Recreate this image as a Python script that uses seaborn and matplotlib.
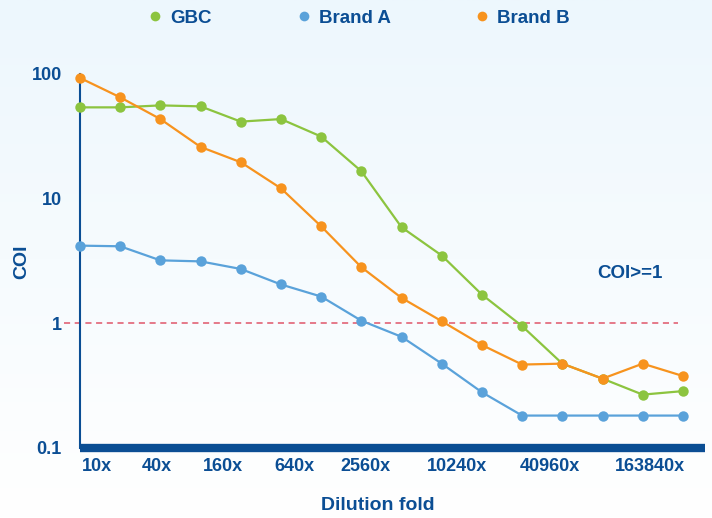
import matplotlib
matplotlib.use("Agg")
import matplotlib.pyplot as plt
import numpy as np
import pandas as pd
import seaborn as sns
from matplotlib.colors import LinearSegmentedColormap
from matplotlib.lines import Line2D

dilutions = ["10x", "20x", "40x", "80x", "160x", "320x", "640x", "1280x",
             "2560x", "5120x", "10240x", "20480x", "40960x", "81920x",
             "163840x", "327680x"]
gbc = [54, 54, 56, 55, 41.5, 43.5, 31.5, 16.6, 5.9, 3.5, 1.7, 0.95,
       0.475, 0.36, 0.268, 0.286]
brand_a = [4.2, 4.15, 3.2, 3.14, 2.73, 2.05, 1.64, 1.05, 0.78, 0.475,
           0.28, 0.182, 0.182, 0.182, 0.182, 0.182]
brand_b = [93, 65, 43.5, 26, 19.6, 12.1, 6.0, 2.82, 1.6, 1.04, 0.67,
           0.467, 0.475, 0.36, 0.475, 0.378]
tick_labels = ["10x", "40x", "160x", "640x", "2560x", "10240x", "40960x", "163840x"]
series_names = ["GBC", "Brand A", "Brand B"]
threshold = 1

NAVY = "#0B4E94"
palette = {"GBC": "#8CC43F", "Brand A": "#5AA2DA", "Brand B": "#F7931E"}

df = pd.DataFrame({
    "idx": list(range(len(dilutions))) * 3,
    "COI": gbc + brand_a + brand_b,
    "series": [s for s in series_names for _ in dilutions],
})

sns.set_style("white")
plt.rcParams["font.family"] = ["Liberation Sans", "DejaVu Sans"]
plt.rcParams["font.weight"] = "bold"

fig = plt.figure(figsize=(7.12, 5.18), dpi=100)

# light blue to white background gradient
bg = fig.add_axes([0, 0, 1, 1], zorder=-10)
grad = np.linspace(0, 1, 256).reshape(-1, 1)
cmap = LinearSegmentedColormap.from_list("bg", ["#EDF7FD", "#FFFFFF"])
bg.imshow(grad, aspect="auto", cmap=cmap, extent=[0, 1, 0, 1])
bg.axis("off")

ax = fig.add_axes([80 / 712, 70 / 518, 625 / 712, 374 / 518])
ax.patch.set_alpha(0)

sns.lineplot(data=df, x="idx", y="COI", hue="series", palette=palette,
             marker="o", markersize=7.5, markeredgewidth=0, linewidth=1.6,
             legend=False, ax=ax, clip_on=False, zorder=3)

ax.axhline(threshold, xmin=-0.025, xmax=0.957, color="#E0566A", linestyle=(0, (4, 3)),
           linewidth=1.1, clip_on=False, zorder=2)
ax.text(13.68, 2.52, "COI>=1", color=NAVY, fontsize=13.5, fontweight="bold",
        ha="center", va="center")

ax.set_yscale("log")
ax.set_ylim(0.1, 100)
ax.set_xlim(0, 15.55)
ax.set_yticks([0.1, 1, 10, 100])
ax.set_yticklabels(["0.1", "1", "10", "100"])
ax.minorticks_off()
ax.set_xticks([0.42, 1.92, 3.56, 5.34, 7.11, 9.38, 11.68, 14.17])
ax.set_xticklabels(tick_labels)
ax.tick_params(axis="both", length=0, labelsize=13, colors=NAVY)
ax.tick_params(axis="y", pad=13)
ax.tick_params(axis="x", pad=7)
for lab in ax.get_xticklabels() + ax.get_yticklabels():
    lab.set_fontweight("bold")

ax.set_xlabel("Dilution fold", color=NAVY, fontsize=14, fontweight="bold")
ax.set_ylabel("COI", color=NAVY, fontsize=14, fontweight="bold")
ax.xaxis.set_label_coords(298 / 625, -57 / 374)
ax.yaxis.set_label_coords(-58 / 625, 186 / 374)
ax.xaxis.label.set_va("center")
ax.yaxis.label.set_va("center")

for side in ["top", "right"]:
    ax.spines[side].set_visible(False)
ax.spines["left"].set_color(NAVY)
ax.spines["left"].set_linewidth(1.5)
ax.spines["bottom"].set_color(NAVY)
ax.spines["bottom"].set_linewidth(6)
ax.spines["bottom"].set_capstyle("butt")

handles = [Line2D([], [], linestyle="none", marker="o", markersize=7,
                  markeredgewidth=0, color=palette[s]) for s in series_names]
fig.legend(handles, series_names, loc="center", bbox_to_anchor=(357 / 712, 1 - 18 / 518),
           ncol=3, frameon=False, columnspacing=4.3, handletextpad=0.2,
           handlelength=1.2, prop={"weight": "bold", "size": 13.5}, labelcolor=NAVY)

fig.savefig("out.png", dpi=100)
